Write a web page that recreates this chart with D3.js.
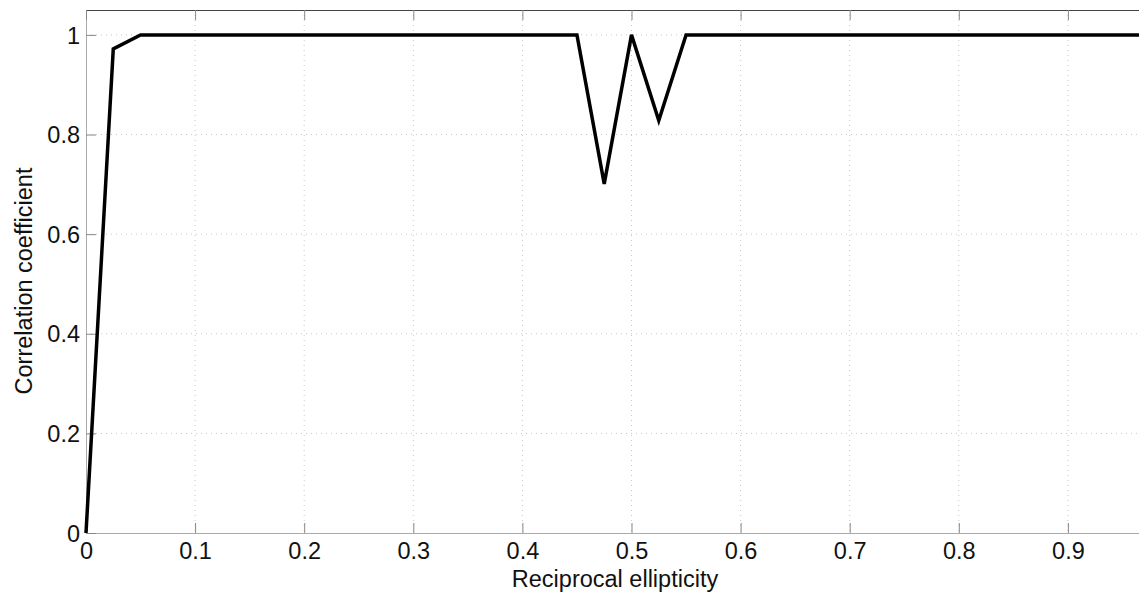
<!DOCTYPE html>
<html><head><meta charset="utf-8">
<script src="https://cdn.jsdelivr.net/npm/d3@7"></script>
<style>body{margin:0;background:#fff}svg{display:block}text{font-family:"Liberation Sans",Arial,Helvetica,sans-serif}</style>
</head><body><svg id="c" width="1139" height="599"></svg>
<script>
const xValues = [0,0.025,0.05,0.075,0.1,0.125,0.15,0.175,0.2,0.225,0.25,0.275,0.3,0.325,0.35,0.375,0.4,0.425,0.45,0.475,0.5,0.525,0.55,0.575,0.6,0.625,0.65,0.675,0.7,0.725,0.75,0.775,0.8,0.825,0.85,0.875,0.9,0.925,0.95,0.975,1.0];
const corr = [0,0.972,1,1,1,1,1,1,1,1,1,1,1,1,1,1,1,1,1,0.701,1,0.828,1,1,1,1,1,1,1,1,1,1,1,1,1,1,1,1,1,1,1];
const xTicks = [0,0.1,0.2,0.3,0.4,0.5,0.6,0.7,0.8,0.9];
const yTicks = [0,0.2,0.4,0.6,0.8,1];
const xLabel = "Reciprocal ellipticity";
const yLabel = "Correlation coefficient";

const svg = d3.select("#c");
const L = 86, T = 10, B = 533, R = 1177;
const x = d3.scaleLinear().domain([0,1]).range([L,R]);
const y = d3.scaleLinear().domain([0,1.05]).range([B,T]);
const FS = 23.5;

// grid
svg.append("g").selectAll("line").data(xTicks.slice(1)).join("line")
  .attr("x1",d=>x(d)).attr("x2",d=>x(d)).attr("y1",T).attr("y2",B)
  .attr("stroke","#c8c8c8").attr("stroke-width",1).attr("stroke-dasharray","1,4");
svg.append("g").selectAll("line").data(yTicks.slice(1)).join("line")
  .attr("x1",L).attr("x2",1139).attr("y1",d=>y(d)).attr("y2",d=>y(d))
  .attr("stroke","#c8c8c8").attr("stroke-width",1).attr("stroke-dasharray","1,4");

// box
svg.append("line").attr("x1",L).attr("x2",1139).attr("y1",T+0.5).attr("y2",T+0.5).attr("stroke","#444");
svg.append("line").attr("x1",L).attr("x2",1139).attr("y1",B+0.5).attr("y2",B+0.5).attr("stroke","#aaa");
svg.append("line").attr("x1",L+0.5).attr("x2",L+0.5).attr("y1",T).attr("y2",B).attr("stroke","#aaa");

// axes (ticks inward)
const xAxB = d3.axisBottom(x).tickValues(xTicks).tickSizeInner(-10).tickSizeOuter(0).tickPadding(0).tickFormat(d3.format("~g"));
const gxb = svg.append("g").attr("transform",`translate(0,${B})`).call(xAxB);
gxb.select(".domain").remove();
gxb.selectAll(".tick line").attr("stroke","#888");
gxb.selectAll("text").attr("font-size",FS).attr("fill","#111").attr("y",26).attr("dy",0);

const xAxT = d3.axisTop(x).tickValues(xTicks).tickSizeInner(-10).tickSizeOuter(0).tickFormat("");
const gxt = svg.append("g").attr("transform",`translate(0,${T})`).call(xAxT);
gxt.select(".domain").remove();
gxt.selectAll(".tick line").attr("stroke","#888");

const yAx = d3.axisLeft(y).tickValues(yTicks).tickSizeInner(-10).tickSizeOuter(0).tickPadding(6).tickFormat(d3.format("~g"));
const gy = svg.append("g").attr("transform",`translate(${L},0)`).call(yAx);
gy.select(".domain").remove();
gy.selectAll(".tick line").attr("stroke","#888");
gy.selectAll("text").attr("font-size",FS).attr("fill","#111").attr("dy","0.35em");

// line
svg.append("path").datum(xValues.map((v,i)=>[v,corr[i]]))
  .attr("fill","none").attr("stroke","#000").attr("stroke-width",3.5).attr("stroke-linejoin","miter")
  .attr("d",d3.line().x(d=>x(d[0])).y(d=>y(d[1])));

// labels
svg.append("text").attr("x",615).attr("y",587).attr("text-anchor","middle").attr("font-size",FS).attr("fill","#111").text(xLabel);
svg.append("text").attr("transform","translate(32,281) rotate(-90)").attr("text-anchor","middle").attr("font-size",FS).attr("fill","#111").text(yLabel);
</script></body></html>
